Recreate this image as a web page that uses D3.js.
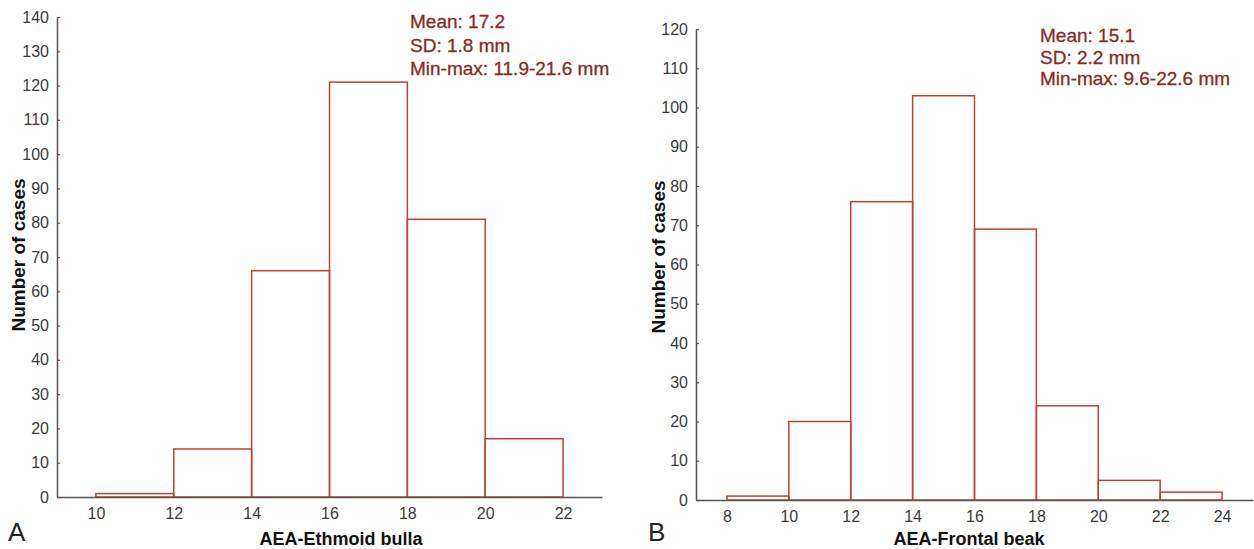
<!DOCTYPE html>
<html>
<head>
<meta charset="utf-8">
<script src="https://cdn.jsdelivr.net/npm/d3@7"></script>
<style>
  html, body { margin: 0; padding: 0; background: #fff; }
  svg { display: block; }
  .tick text { font-family: "Liberation Sans Narrow", "Arial Narrow", "Liberation Sans", sans-serif; font-size: 16px; fill: #3a3a3a; }
  .title { font-family: "Liberation Sans", Arial, sans-serif; font-weight: bold; fill: #111; }
  .note { font-family: "Liberation Sans", Arial, sans-serif; font-size: 19px; fill: #8a2a1e; stroke: #8a2a1e; stroke-width: 0.3px; }
  .panel { font-family: "Liberation Sans", Arial, sans-serif; font-size: 26px; fill: #222; }
</style>
</head>
<body>
<div id="chart"></div>
<script>
// panel A: AEA-Ethmoid bulla
const edgesA = [10, 12, 14, 16, 18, 20, 22];
const countsA = [1, 14, 66, 121, 81, 17];
const notesA = ["Mean: 17.2", "SD: 1.8 mm", "Min-max: 11.9-21.6 mm"];

// panel B: AEA-Frontal beak
const edgesB = [8, 10, 12, 14, 16, 18, 20, 22, 24];
const countsB = [1, 20, 76, 103, 69, 24, 5, 2];
const notesB = ["Mean: 15.1", "SD: 2.2 mm", "Min-max: 9.6-22.6 mm"];

const W = 1254, H = 549;
const barColor = "#bb4236";
const axisColor = "#555";

const svg = d3.select("#chart").append("svg").attr("width", W).attr("height", H);

function drawHist(cfg) {
  const x = d3.scaleLinear().domain(cfg.xDomain).range([cfg.left, cfg.right]);
  const y = d3.scaleLinear().domain([0, cfg.yMax]).range([cfg.bottom, cfg.top]);
  const g = svg.append("g");

  /** bins built from edges + counts */
  const bins = cfg.counts.map((c, i) => ({ x0: cfg.edges[i], x1: cfg.edges[i + 1], n: c }));

  g.append("g")
    .selectAll("rect")
    .data(bins)
    .join("rect")
    .attr("x", (d) => x(d.x0))
    .attr("y", (d) => y(d.n))
    .attr("width", (d) => x(d.x1) - x(d.x0))
    .attr("height", (d) => y(0) - y(d.n))
    .attr("fill", "none")
    .attr("stroke", barColor)
    .attr("stroke-width", 1.5);

  // y axis, small ticks pointing inward
  const yAxis = g.append("g")
    .attr("transform", `translate(${cfg.left},0)`)
    .call(d3.axisLeft(y).tickValues(d3.range(0, cfg.yMax + 1, 10)).tickSize(-3).tickPadding(8).tickSizeOuter(0));
  yAxis.select(".domain").attr("stroke", axisColor).attr("stroke-width", 1.5);
  yAxis.selectAll(".tick line").attr("stroke", axisColor).attr("stroke-width", 1.2);

  // x axis, no tick marks
  const xAxis = g.append("g")
    .attr("transform", `translate(0,${cfg.bottom})`)
    .call(d3.axisBottom(x).tickValues(cfg.edges).tickSize(0).tickPadding(11).tickSizeOuter(0));
  xAxis.select(".domain").attr("stroke", axisColor).attr("stroke-width", 1.5);
  xAxis.selectAll(".tick text").attr("dy", "0.71em");

  g.append("text")
    .attr("class", "title")
    .attr("x", cfg.xTitleX)
    .attr("y", 545)
    .attr("text-anchor", "middle")
    .attr("font-size", 18)
    .text(cfg.xTitle);

  g.append("text")
    .attr("class", "title")
    .attr("transform", `translate(${cfg.yTitleX},${cfg.yTitleY}) rotate(-90)`)
    .attr("text-anchor", "middle")
    .attr("font-size", 19)
    .text("Number of cases");

  g.append("text")
    .attr("class", "panel")
    .attr("x", cfg.panelX)
    .attr("y", 541)
    .text(cfg.panel);

  g.append("g")
    .selectAll("text")
    .data(cfg.notes)
    .join("text")
    .attr("class", "note")
    .attr("x", cfg.noteX)
    .attr("y", (d, i) => cfg.noteY + i * cfg.noteGap)
    .text((d) => d);
}

drawHist({
  edges: edgesA, counts: countsA, notes: notesA,
  xDomain: [9, 23], yMax: 140,
  left: 57, right: 602, top: 17, bottom: 497,
  xTitle: "AEA-Ethmoid bulla", xTitleX: 341,
  yTitleX: 25, yTitleY: 255,
  panel: "A", panelX: 8,
  noteX: 410, noteY: 28, noteGap: 23.5
});

drawHist({
  edges: edgesB, counts: countsB, notes: notesB,
  xDomain: [7, 25], yMax: 120,
  left: 696, right: 1253, top: 29, bottom: 500,
  xTitle: "AEA-Frontal beak", xTitleX: 969,
  yTitleX: 665, yTitleY: 257,
  panel: "B", panelX: 648,
  noteX: 1040, noteY: 42, noteGap: 21.5
});
</script>
</body>
</html>
